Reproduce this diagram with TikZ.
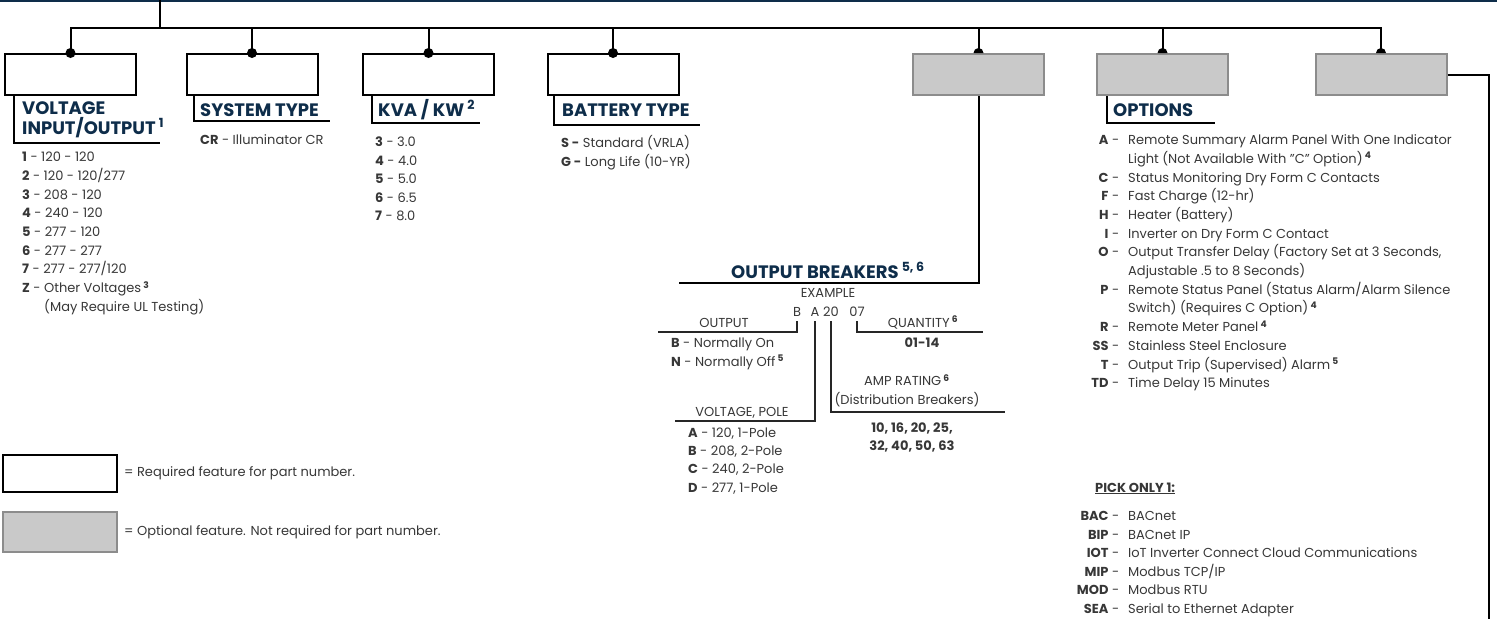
\documentclass[tikz,border=0pt]{standalone}
\usepackage{fontspec}
\setmainfont{Poppins}
\usepackage{xcolor}
\usetikzlibrary{positioning,calc}

\definecolor{navy}{RGB}{14,45,74}
\definecolor{bodytxt}{RGB}{55,55,55}
\definecolor{optfill}{RGB}{201,201,201}
\definecolor{optedge}{RGB}{140,140,140}

\newcommand{\supnum}[1]{\textsuperscript{\textbf{#1}}}
\newcommand{\codeat}[1]{\llap{#1\hspace{9pt}}}

\begin{document}
\begin{tikzpicture}[
  x=1pt, y=-1pt,
  font=\fontsize{13}{18.7}\selectfont, text=bodytxt,
  reqbox/.style={draw=black, line width=2pt, minimum width=131pt, minimum height=41pt, inner sep=0pt},
  optbox/.style={draw=optedge, fill=optfill, line width=2pt, minimum width=131pt, minimum height=41pt, inner sep=0pt},
  wire/.style={draw=black, line width=2pt},
  fine/.style={draw=black!85, line width=1.4pt},
  hdr/.style={font=\fontsize{18}{20}\selectfont\bfseries, text=navy, inner sep=0pt, align=left},
  lst/.style={inner sep=0pt, align=left, anchor=north west},
  excode/.style={inner sep=0pt, outer ysep=5pt, anchor=base}
]
\useasboundingbox (0,0) rectangle (1497,619);
\draw[navy, line width=2.5pt] (0,1) -- (1497,1);

% code boxes
\node[reqbox] (volt) at (70.5,74.5) {};
\node[reqbox] (sys)  at (252,74.5) {};
\node[reqbox] (kva)  at (428.5,74.5) {};
\node[reqbox] (batt) at (613,74.5) {};
\node[optbox] (brk)  at (978.5,74.5) {};
\node[optbox] (opts) at (1162.5,74.5) {};
\node[optbox] (comm) at (1381,74.5) {};

% bus
\coordinate (top) at (160,0);
\coordinate (bus) at (160,28);
\draw[wire] (top) -- (bus);
\draw[wire] (volt.north) |- (bus) -| (comm.north);
\foreach \b in {sys,kva,batt,brk,opts}
  \draw[wire] (\b.north |- bus) -- (\b.north);
\foreach \b in {volt,sys,kva,batt}
  \fill (\b.north) circle (5);
\foreach \b in {brk,opts,comm}
  \fill (\b.north) ++(5,0) arc[start angle=0, end angle=-180, radius=5] -- cycle;

% headings
\node[hdr, anchor=north west] (hvolt) at (22,101) {VOLTAGE\\INPUT/OUTPUT\,\supnum{1}};
\coordinate (ulvolt) at (160,143);
\draw[wire] ([xshift=10pt]volt.south west) |- (ulvolt);

\node[hdr, anchor=base west] (hsys) at (200,116) {SYSTEM TYPE};
\coordinate (ulsys) at (330,121);
\draw[wire] ([xshift=8pt]sys.south west) |- (ulsys);

\node[hdr, anchor=base west] (hkva) at (378,116) {KVA / KW\,\supnum{2}};
\coordinate (ulkva) at (480,123);
\draw[wire] ([xshift=10pt]kva.south west) |- (ulkva);

\node[hdr, anchor=base west] (hbatt) at (562,116) {BATTERY TYPE};
\coordinate (ulbatt) at (700,125);
\draw[wire] ([xshift=7pt]batt.south west) |- (ulbatt);

\node[hdr, anchor=base west] (hopts) at (1113,116) {OPTIONS};
\coordinate (ulopts) at (1215,123);
\draw[wire] ([xshift=11pt]opts.south west) |- (ulopts);

% lists
\node[lst] (lvolt) at (22,152) {\textbf{1} - 120 - 120\\ \textbf{2} - 120 - 120/277\\ \textbf{3} - 208 - 120\\
  \textbf{4} - 240 - 120\\ \textbf{5} - 277 - 120\\ \textbf{6} - 277 - 277\\ \textbf{7} - 277 - 277/120\\
  \textbf{Z} - Other Voltages\,\supnum{3}\\ \hspace*{22pt}(May Require UL Testing)};
\node[lst] (lsys) at (200,134) {\textbf{CR} - Illuminator CR};
\node[lst, font=\fontsize{13}{18.5}\selectfont] (lkva) at (375,137) {\textbf{3} - 3.0\\ \textbf{4} - 4.0\\ \textbf{5} - 5.0\\ \textbf{6} - 6.5\\ \textbf{7} - 8.0};
\node[lst] (lbatt) at (561,135) {\textbf{S -} Standard (VRLA)\\ \textbf{G -} Long Life (10-YR)};

\node[lst] (lopts) at (1128,134.5) {\codeat{\textbf{A} -}Remote Summary Alarm Panel With One Indicator\\
  Light (Not Available With "C" Option)\,\supnum{4}\\
  \codeat{\textbf{C} -}Status Monitoring Dry Form C Contacts\\
  \codeat{\textbf{F} -}Fast Charge (12-hr)\\
  \codeat{\textbf{H} -}Heater (Battery)\\
  \codeat{\textbf{I} -}Inverter on Dry Form C Contact\\
  \codeat{\textbf{O} -}Output Transfer Delay (Factory Set at 3 Seconds,\\
  Adjustable .5 to 8 Seconds)\\
  \codeat{\textbf{P} -}Remote Status Panel (Status Alarm/Alarm Silence\\
  Switch) (Requires C Option)\,\supnum{4}\\
  \codeat{\textbf{R} -}Remote Meter Panel\,\supnum{4}\\
  \codeat{\textbf{SS} -}Stainless Steel Enclosure\\
  \codeat{\textbf{T} -}Output Trip (Supervised) Alarm\,\supnum{5}\\
  \codeat{\textbf{TD} -}Time Delay 15 Minutes};

\node[inner sep=0pt, anchor=base west, font=\fontsize{13}{14}\selectfont\bfseries] (pick) at (1095,492) {\underline{PICK ONLY 1:}};
\node[lst, font=\fontsize{13}{18.5}\selectfont] (lcomm) at (1128,511.5) {\codeat{\textbf{BAC} -}BACnet\\
  \codeat{\textbf{BIP} -}BACnet IP\\
  \codeat{\textbf{IOT} -}IoT Inverter Connect Cloud Communications\\
  \codeat{\textbf{MIP} -}Modbus TCP/IP\\
  \codeat{\textbf{MOD} -}Modbus RTU\\
  \codeat{\textbf{SEA} -}Serial to Ethernet Adapter};
\coordinate (commend) at (1489,619);
\draw[wire] (comm.east) -| (commend);

% output breakers
\node[hdr, anchor=base] (hbrk) at (828,278) {OUTPUT BREAKERS\,\supnum{5, 6}};
\coordinate (ulbrk) at (679,283);
\draw[wire] (brk.south) |- (ulbrk);
\node[inner sep=0pt, anchor=base] (exlbl) at (828,297) {EXAMPLE};
\node[excode] (exB)  at (797,316) {B};
\node[excode] (exA)  at (815,316) {A};
\node[excode] (ex20) at (831,316) {20};
\node[excode] (ex07) at (857,316) {07};

\coordinate (outl) at (658,332);
\coordinate (qtyl) at (983,332);
\coordinate (vpl)  at (675,421);
\coordinate (ampl) at (1005,412);
\draw[fine] (exB.south) |- (outl);
\draw[fine] (ex07.south) |- (qtyl);
\draw[fine] (exA.south) |- (vpl);
\draw[fine] (ex20.south) |- (ampl);

\node[inner sep=0pt, anchor=base] (lout) at (724,327) {OUTPUT};
\node[inner sep=0pt, anchor=base] (lqty) at (923,327) {QUANTITY\,\supnum{6}};
\node[inner sep=0pt, anchor=base, font=\fontsize{13}{18.7}\selectfont\bfseries] (vqty) at (922,347) {01-14};
\node[lst] (lonoff) at (671,337.5) {\textbf{B} - Normally On\\ \textbf{N} - Normally Off\,\supnum{5}};
\node[inner sep=0pt, align=center, anchor=base] (lamp) at (907,404.5) {AMP RATING\,\supnum{6}\\(Distribution Breakers)};
\node[inner sep=0pt, anchor=base] (lvp) at (742,416) {VOLTAGE, POLE};
\node[lst, font=\fontsize{13}{18.3}\selectfont] (lpole) at (688,427.5) {\textbf{A} - 120, 1-Pole\\ \textbf{B} - 208, 2-Pole\\ \textbf{C} - 240, 2-Pole\\ \textbf{D} - 277, 1-Pole};
\node[inner sep=0pt, align=center, anchor=north, font=\fontsize{13}{18}\selectfont\bfseries] (vamp) at (912,423) {10, 16, 20, 25,\\32, 40, 50, 63};

% legend
\node[reqbox, minimum width=114pt, minimum height=37pt] (legreq) at (60,473.5) {};
\node[inner sep=0pt, right=6pt of legreq] (legreqtxt) {= Required feature for part number.};
\node[optbox, minimum width=114pt, minimum height=40pt] (legopt) at (60,532) {};
\node[inner sep=0pt, right=6pt of legopt] (legopttxt) {= Optional feature. Not required for part number.};
\end{tikzpicture}
\end{document}
